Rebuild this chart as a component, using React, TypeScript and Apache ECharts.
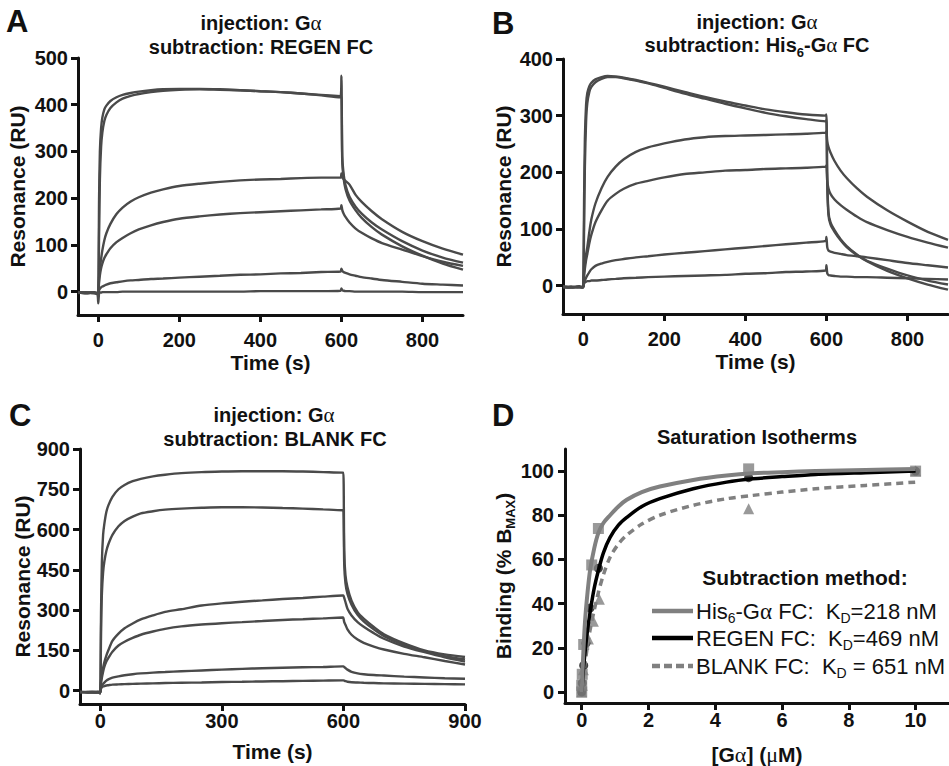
import React, { useEffect, useRef } from 'react';
import * as echarts from 'echarts';

// Sensorgram sampling times (s), shared by panels A–C
const TIME = [-50, -30, -10, -2, 0, 2, 4, 7, 10, 15, 20, 30, 45, 60, 80, 100, 130, 160, 200, 250, 300, 350, 400, 450, 500, 550, 598, 600, 602, 605, 610, 620, 635, 650, 675, 700, 750, 800, 850, 900];

// Panel A – subtraction: REGEN FC (RU)
const REGEN_1 = [-2, -3, -2, -4, -5, 200, 300, 350, 372, 390, 398, 408, 416, 421, 425, 428, 431, 433, 434, 434, 433, 431, 429, 427, 424, 421, 418, 462, 290, 255, 228, 203, 182, 167, 148, 133, 108, 88, 73, 62];
const REGEN_2 = [-3, -2, -3, -5, -6, 120, 240, 310, 340, 365, 378, 393, 405, 413, 419, 423, 427, 430, 432, 433, 432, 431, 429, 427, 424, 420, 416, 418, 280, 245, 220, 195, 174, 158, 138, 122, 97, 77, 60, 47];
const REGEN_3 = [-2, -2, -3, -4, -4, 30, 50, 70, 88, 110, 125, 145, 166, 180, 193, 202, 212, 219, 226, 231, 235, 238, 240, 241, 243, 244, 244, 253, 246, 241, 237, 229, 207, 192, 172, 155, 128, 108, 92, 79];
const REGEN_4 = [-2, -3, -2, -3, -4, 20, 35, 50, 60, 72, 80, 93, 106, 115, 125, 133, 142, 149, 156, 161, 165, 168, 170, 172, 174, 176, 178, 185, 175, 168, 160, 148, 135, 126, 114, 104, 90, 76, 64, 55];
const REGEN_5 = [-2, -3, -2, -3, -3, 3, 6, 9, 11, 13, 15, 18, 20, 22, 24, 25, 27, 28, 30, 32, 34, 36, 37, 39, 40, 42, 43, 49, 45, 42, 40, 37, 34, 31, 28, 25, 21, 17, 15, 13];
const REGEN_6 = [-2, -3, -3, -6, -25, -3, -2, -2, -1, -1, -1, -1, -1, 0, 0, 0, 0, 0, 0, 0, 0, 0, 1, 1, 1, 1, 2, 7, 3, 2, 1, 1, 0, 0, 0, 0, 0, -1, -1, -1];

// Panel B – subtraction: His6-Gα FC (RU)
const HIS6_1 = [-2, -3, -1, -3, -2, 150, 260, 320, 340, 352, 358, 364, 368, 370, 369, 367, 363, 358, 351, 342, 333, 325, 318, 311, 306, 302, 300, 302, 190, 130, 112, 98, 82, 70, 55, 43, 26, 13, 2, -7];
const HIS6_2 = [-3, -2, -3, -2, -3, 100, 210, 290, 322, 342, 351, 359, 365, 368, 368, 366, 362, 357, 349, 339, 330, 321, 313, 305, 299, 294, 290, 292, 180, 125, 108, 95, 80, 68, 54, 44, 30, 18, 9, 2];
const HIS6_3 = [-2, -3, -2, -3, -2, 22, 38, 55, 68, 95, 117, 145, 172, 192, 210, 223, 236, 244, 251, 258, 262, 264, 265, 266, 267, 268, 270, 272, 255, 245, 235, 220, 203, 190, 172, 157, 133, 113, 95, 81];
const HIS6_4 = [-3, -2, -3, -2, -2, 18, 30, 45, 56, 75, 90, 112, 133, 150, 162, 171, 180, 185, 191, 197, 200, 203, 204, 206, 207, 208, 210, 212, 185, 172, 162, 152, 142, 134, 122, 112, 98, 86, 76, 67];
const HIS6_5 = [-2, -3, -2, -3, -2, 5, 9, 14, 18, 24, 29, 35, 39, 42, 45, 47, 50, 52, 55, 58, 61, 64, 67, 70, 73, 76, 79, 86, 68, 62, 60, 58, 56, 54, 52, 50, 45, 40, 36, 32];
const HIS6_6 = [-2, -3, -2, -3, -2, 4, 6, 7, 8, 8, 9, 9, 10, 11, 12, 13, 14, 15, 16, 17, 18, 19, 21, 22, 24, 25, 27, 36, 22, 19, 18, 17, 16, 16, 15, 15, 14, 13, 12, 11];

// Panel C – subtraction: BLANK FC (RU)
const BLANK_1 = [-5, -7, -6, -8, -12, 300, 480, 580, 620, 665, 690, 722, 750, 766, 780, 789, 798, 804, 810, 814, 816, 817, 817, 817, 816, 814, 812, 812, 520, 430, 385, 335, 292, 268, 237, 210, 176, 150, 135, 125];
const BLANK_2 = [-6, -5, -7, -6, -8, 230, 360, 440, 480, 520, 545, 580, 612, 632, 648, 660, 668, 674, 678, 681, 683, 683, 682, 680, 678, 675, 672, 672, 470, 400, 360, 320, 282, 258, 228, 203, 170, 146, 128, 116];
const BLANK_3 = [-5, -6, -5, -7, -6, 40, 60, 85, 105, 130, 150, 185, 212, 232, 250, 265, 280, 293, 303, 317, 325, 331, 336, 341, 345, 350, 354, 354, 345, 330, 305, 280, 255, 238, 214, 193, 164, 143, 124, 108];
const BLANK_4 = [-6, -5, -6, -5, -7, 30, 48, 70, 88, 108, 122, 145, 168, 182, 196, 208, 220, 230, 239, 246, 251, 255, 259, 263, 266, 269, 272, 270, 255, 245, 228, 208, 190, 178, 164, 153, 137, 124, 110, 97];
const BLANK_5 = [-5, -6, -5, -6, -6, 12, 18, 25, 30, 37, 42, 48, 53, 57, 61, 64, 67, 69, 72, 75, 78, 81, 83, 85, 87, 88, 90, 90, 88, 84, 78, 70, 64, 61, 58, 56, 52, 49, 46, 44];
const BLANK_6 = [-5, -6, -6, -5, -6, 8, 12, 15, 17, 19, 20, 22, 23, 24, 25, 26, 27, 28, 29, 30, 32, 33, 34, 35, 36, 37, 38, 38, 37, 35, 33, 31, 30, 29, 28, 27, 26, 25, 24, 23];

// Panel D – saturation isotherms, fitted curves (% Bmax vs µM)
const CONC_FIT = [0, 0.05, 0.1, 0.175, 0.25, 0.375, 0.5, 0.65, 0.85, 1.1, 1.35, 1.8, 2.34, 3.34, 4.34, 5.13, 6, 7, 8.5, 10];
const FIT_HIS6 = [0, 18, 32, 45, 55, 65, 72, 76.5, 80, 84, 87, 90.5, 93, 96, 98, 99, 99.5, 100, 100.5, 101];
const FIT_REGEN = [0, 10, 18, 28, 36, 47, 55, 63, 70, 75.5, 79, 84, 87.5, 92, 95, 96.5, 97.5, 98.5, 99.3, 100];
const FIT_BLANK = [0, 7, 13, 21, 28, 37, 45, 53, 61, 67, 71, 76, 80, 84.5, 87.5, 89, 90.5, 92, 93.5, 95];

// Panel D – measured points [µM, % Bmax]
const PTS_HIS6 = [[0, 0], [0, 3], [0.016, 8], [0.06, 21.5], [0.3, 57.5], [0.5, 74], [5, 101], [10, 100]];
const PTS_REGEN = [[0, 0], [0.016, 4], [0.06, 12], [0.125, 22], [0.25, 38], [0.5, 56], [5, 97], [10, 100]];
const PTS_BLANK = [[0, 0], [0.016, 3], [0.05, 10], [0.2, 24], [0.35, 32], [0.53, 42], [5, 83], [10, 100]];

// Tick values
const TICKS_T = [0, 200, 400, 600, 800];
const TICKS_T_C = [0, 300, 600, 900];
const TICKS_RU_A = [0, 100, 200, 300, 400, 500];
const TICKS_RU_B = [0, 100, 200, 300, 400];
const TICKS_RU_C = [0, 150, 300, 450, 600, 750, 900];
const TICKS_CONC = [0, 2, 4, 6, 8, 10];
const TICKS_BIND = [0, 20, 40, 60, 80, 100];

const INK = '#111';
const TRACE = '#4a4a4a';
const GREY = '#808080';
const FONT = '"Liberation Sans", Arial, Helvetica, sans-serif';
const SERIF = '"Liberation Serif", "DejaVu Serif", serif';

const zip = (xs: number[], ys: number[]) => xs.map((x, i) => [x, ys[i]]);

function makeAxis(o: {
  grid: number; min: number; max: number; ticks: number[];
  name: string; nameGap: number; labelMargin: number; rich?: any;
}) {
  return {
    type: 'value',
    gridIndex: o.grid,
    min: o.min,
    max: o.max,
    name: o.name,
    nameLocation: 'middle',
    nameGap: o.nameGap,
    nameTextStyle: { color: INK, fontFamily: FONT, fontSize: 21, fontWeight: 'bold', rich: o.rich },
    axisLine: { show: true, onZero: false, lineStyle: { color: INK, width: 3 } },
    axisTick: { show: true, length: 7, customValues: o.ticks, lineStyle: { color: INK, width: 3 } },
    axisLabel: {
      show: true, margin: o.labelMargin, customValues: o.ticks,
      color: INK, fontFamily: FONT, fontSize: 20, fontWeight: 'bold',
    },
    splitLine: { show: false },
  };
}

function traces(curves: number[][], idx: number) {
  return curves.map((vals) => ({
    type: 'line',
    xAxisIndex: idx,
    yAxisIndex: idx,
    data: zip(TIME, vals),
    showSymbol: false,
    smooth: 0.25,
    silent: true,
    lineStyle: { color: TRACE, width: 2.4 },
  }));
}

function fitLine(vals: number[], color: string, width: number, type: any) {
  return {
    type: 'line',
    xAxisIndex: 3,
    yAxisIndex: 3,
    data: zip(CONC_FIT, vals),
    showSymbol: false,
    smooth: 0.3,
    silent: true,
    lineStyle: { color, width, type },
  };
}

const serifRich = {
  n: { fontFamily: FONT, fontSize: 21, fontWeight: 'bold', color: INK },
  g: { fontFamily: SERIF, fontSize: 22, fontWeight: 'normal', color: INK },
  s: { fontFamily: FONT, fontSize: 13, fontWeight: 'bold', color: INK, padding: [14, 0, 0, 0] },
};

function titleText(x: number, y: number, text: string, size = 20) {
  return {
    type: 'text',
    x,
    y,
    silent: true,
    style: {
      text,
      align: 'center',
      verticalAlign: 'middle',
      rich: {
        b: { fontFamily: FONT, fontSize: size, fontWeight: 'bold', fill: INK },
        g: { fontFamily: SERIF, fontSize: size + 1, fontWeight: 'normal', fill: INK },
        s: { fontFamily: FONT, fontSize: 13, fontWeight: 'bold', fill: INK, padding: [14, 0, 0, 0] },
      },
    },
  };
}

function letter(x: number, y: number, text: string) {
  return {
    type: 'text',
    x,
    y,
    silent: true,
    style: { text, align: 'left', verticalAlign: 'middle', fontFamily: FONT, fontSize: 31, fontWeight: 'bold', fill: INK },
  };
}

function legendRow(y: number, text: string, stroke: string, dash?: number[]) {
  return [
    {
      type: 'line',
      silent: true,
      shape: { x1: 652, y1: y, x2: 693, y2: y },
      style: { stroke, lineWidth: 4.5, lineDash: dash },
    },
    {
      type: 'text',
      x: 696,
      y,
      silent: true,
      style: {
        text,
        align: 'left',
        verticalAlign: 'middle',
        rich: {
          n: { fontFamily: FONT, fontSize: 22, fontWeight: 'normal', fill: INK },
          g: { fontFamily: SERIF, fontSize: 23, fontWeight: 'normal', fill: INK },
          s: { fontFamily: FONT, fontSize: 14, fontWeight: 'normal', fill: INK, padding: [14, 0, 0, 0] },
        },
      },
    },
  ];
}

function buildOption() {
  return {
    animation: false,
    backgroundColor: '#fff',
    grid: [
      { left: 78, top: 58, width: 385, height: 257 },
      { left: 563, top: 59, width: 385, height: 255 },
      { left: 80, top: 449, width: 385, height: 255 },
      { left: 565, top: 449, width: 384, height: 255 },
    ],
    xAxis: [
      makeAxis({ grid: 0, min: -50, max: 900, ticks: TICKS_T, name: 'Time (s)', nameGap: 37, labelMargin: 15 }),
      makeAxis({ grid: 1, min: -50, max: 900, ticks: TICKS_T, name: 'Time (s)', nameGap: 37, labelMargin: 15 }),
      makeAxis({ grid: 2, min: -50, max: 900, ticks: TICKS_T_C, name: 'Time (s)', nameGap: 37, labelMargin: 7 }),
      makeAxis({
        grid: 3, min: -0.5, max: 11, ticks: TICKS_CONC,
        name: '{n|[G}{g|α}{n|] (}{g|μ}{n|M)}', nameGap: 40, labelMargin: 7, rich: serifRich,
      }),
    ],
    yAxis: [
      makeAxis({ grid: 0, min: -50, max: 500, ticks: TICKS_RU_A, name: 'Resonance (RU)', nameGap: 50, labelMargin: 10 }),
      makeAxis({ grid: 1, min: -50, max: 400, ticks: TICKS_RU_B, name: 'Resonance (RU)', nameGap: 49, labelMargin: 10 }),
      makeAxis({ grid: 2, min: -50, max: 900, ticks: TICKS_RU_C, name: 'Resonance (RU)', nameGap: 47, labelMargin: 10 }),
      makeAxis({
        grid: 3, min: -5, max: 110, ticks: TICKS_BIND,
        name: '{n|Binding (% B}{s|MAX}{n|)}', nameGap: 32, labelMargin: 11, rich: serifRich,
      }),
    ],
    series: [
      ...traces([REGEN_1, REGEN_2, REGEN_3, REGEN_4, REGEN_5, REGEN_6], 0),
      ...traces([HIS6_1, HIS6_2, HIS6_3, HIS6_4, HIS6_5, HIS6_6], 1),
      ...traces([BLANK_1, BLANK_2, BLANK_3, BLANK_4, BLANK_5, BLANK_6], 2),
      fitLine(FIT_BLANK, GREY, 3.5, [7, 5]),
      fitLine(FIT_REGEN, '#000', 3.5, 'solid'),
      fitLine(FIT_HIS6, GREY, 4, 'solid'),
      {
        type: 'scatter', xAxisIndex: 3, yAxisIndex: 3, data: PTS_BLANK, symbol: 'triangle', symbolSize: 11,
        silent: true, itemStyle: { color: GREY },
      },
      {
        type: 'scatter', xAxisIndex: 3, yAxisIndex: 3, data: PTS_REGEN, symbol: 'circle', symbolSize: 9,
        silent: true, itemStyle: { color: '#111' },
      },
      {
        type: 'scatter', xAxisIndex: 3, yAxisIndex: 3, data: PTS_HIS6, symbol: 'rect', symbolSize: 11,
        silent: true, itemStyle: { color: GREY },
      },
    ],
    graphic: [
      letter(6, 21, 'A'),
      letter(492, 23, 'B'),
      letter(9, 415, 'C'),
      letter(492, 415, 'D'),
      titleText(261, 23, '{b|injection: G}{g|α}'),
      titleText(261, 47, '{b|subtraction: REGEN FC}'),
      titleText(757, 22, '{b|injection: G}{g|α}'),
      titleText(757, 45, '{b|subtraction: His}{s|6}{b|-G}{g|α}{b| FC}'),
      titleText(274, 415, '{b|injection: G}{g|α}'),
      titleText(275, 439, '{b|subtraction: BLANK FC}'),
      titleText(757, 437, '{b|Saturation Isotherms}'),
      titleText(805, 577, '{b|Subtraction method:}', 21),
      ...legendRow(611, '{n|His}{s|6}{n|-G}{g|α}{n| FC:  K}{s|D}{n|=218 nM}', GREY),
      ...legendRow(638, '{n|REGEN FC:  K}{s|D}{n|=469 nM}', '#000'),
      ...legendRow(666, '{n|BLANK FC:  K}{s|D}{n| = 651 nM}', GREY, [8, 4]),
    ],
  };
}

export default function App() {
  const ref = useRef<HTMLDivElement>(null);
  useEffect(() => {
    if (!ref.current) return;
    const chart = echarts.init(ref.current, undefined, { renderer: 'svg' });
    chart.setOption(buildOption() as any);
    return () => chart.dispose();
  }, []);
  return (
    <div
      ref={ref}
      style={{ position: 'absolute', left: 0, top: 0, width: 949, height: 766, background: '#fff' }}
    />
  );
}
